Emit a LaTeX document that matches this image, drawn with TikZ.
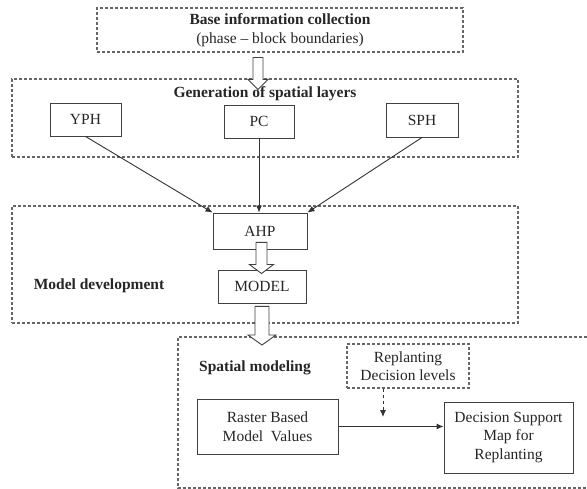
\documentclass[tikz,border=0pt]{standalone}
\usepackage{fontspec}
\setmainfont{Liberation Serif}
\usetikzlibrary{arrows.meta,calc}
\newcommand{\blockarrow}[5]{%
  \draw[fill=white] let \p1=(#1), \p2=(#2) in
    (\x1-#3,\y1) -- (\x1+#3,\y1) -- (\x1+#3,\y2+#5) -- (\x1+#4,\y2+#5)
    -- (\x1,\y2) -- (\x1-#4,\y2+#5) -- (\x1-#3,\y2+#5) -- cycle;}
\begin{document}
\begin{tikzpicture}[x=1pt,y=-1pt,
    every node/.style={font=\fontsize{15.5}{18.5}\selectfont,text=black!85},
    box/.style={draw=black!75,line width=0.9pt,align=center,inner sep=0pt},
    frame/.style={draw=black!60,line width=1.1pt,dash pattern=on 3pt off 2pt},
    heading/.style={font=\fontsize{15.5}{18.5}\selectfont\bfseries},
    link/.style={draw=black!80,line width=0.9pt,-{Latex[length=7pt,width=6pt]}}]
  \useasboundingbox (0,0) rectangle (587,489);
  \node[frame,minimum width=366pt,minimum height=44pt,align=center] (base) at (280,30)
    {\textbf{Base information collection}\\(phase -- block boundaries)};
  \node[frame,minimum width=506pt,minimum height=78pt] (gen) at (265,118) {};
  \node[heading] (gentitle) at (265,94) {Generation of spatial layers};
  \node[box,minimum width=71pt,minimum height=33pt] (yph) at (85.5,119.5) {YPH};
  \node[box,minimum width=70pt,minimum height=33pt] (pc) at (259,121.5) {PC};
  \node[box,minimum width=72pt,minimum height=34pt] (sph) at (422,120) {SPH};
  \node[frame,minimum width=506pt,minimum height=117pt] (mdev) at (265,264.5) {};
  \node[heading] (mdevtitle) at (99,286) {Model development};
  \node[box,minimum width=94pt,minimum height=36pt] (ahp) at (260,231) {AHP};
  \node[box,minimum width=88pt,minimum height=33pt] (model) at (262,286.5) {MODEL};
  \coordinate (spnw) at (178,337);
  \draw[frame] (587,337) -- (spnw) -- (178,488) -- (587,488);
  \node[heading] (sptitle) at (255,368) {Spatial modeling};
  \node[frame,minimum width=122pt,minimum height=44pt,align=center] (repl) at (408,366)
    {Replanting\\Decision levels};
  \node[box,minimum width=141pt,minimum height=55pt] (raster) at (267.5,426.5)
    {Raster Based\\Model\ \ Values};
  \node[box,minimum width=129pt,minimum height=71pt] (dsm) at (508.5,437.5)
    {Decision Support\\Map for\\Replanting};
  \coordinate (dtip) at (383,417);
  \begin{scope}[link]
    \draw (yph.south) to (ahp.north west);
    \draw (pc.south) to (pc.south |- ahp.north);
    \draw (sph.south) to (ahp.north east);
    \draw (raster.east) to (raster.east -| dsm.west);
    \draw[dashed] (repl.south -| dtip) to (dtip);
  \end{scope}
  \begin{scope}[draw=black!75,line width=0.9pt]
    \blockarrow{$(base.south)+(-22,5)$}{$(gen.north)+(0,11)$}{5pt}{10pt}{10pt}
    \blockarrow{$(ahp.south)+(1.5,-7)$}{$(model.north)+(0,4)$}{5.5pt}{12pt}{9pt}
    \blockarrow{$(model.south)+(0,3)$}{$(model.south |- spnw)+(0,8)$}{7pt}{14pt}{10pt}
  \end{scope}
\end{tikzpicture}
\end{document}
